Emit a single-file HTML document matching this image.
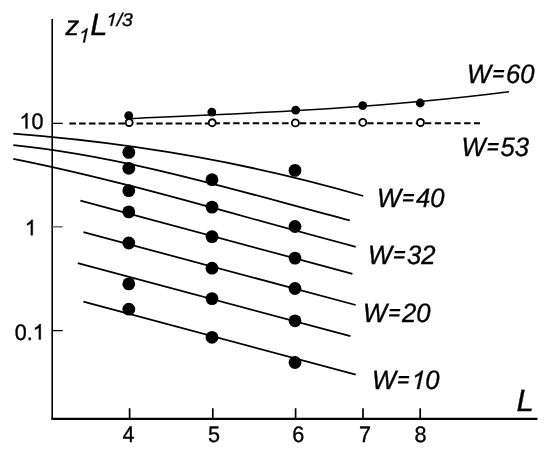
<!DOCTYPE html>
<html><head><meta charset="utf-8">
<style>
html,body{margin:0;padding:0;background:#fff;}
body{width:554px;height:457px;overflow:hidden;}
svg{display:block;will-change:transform;filter:grayscale(1);}
text{font-family:"Liberation Sans",sans-serif;text-rendering:geometricPrecision;fill:#000;stroke:#000;stroke-width:0.35px;}
.it{font-style:italic;}
.g1{fill:#000;stroke:#000;stroke-width:0.35px;vector-effect:non-scaling-stroke;}
</style></head><body>
<svg width="554" height="457" viewBox="0 0 554 457">
<rect width="554" height="457" fill="#fff"/>
<!-- axes -->
<g stroke="#000" fill="none">
<path d="M52.2 19V419.8" stroke-width="1.6"/>
<path d="M51.4 418.8H537.5" stroke-width="2.15"/>
<path d="M52 123.3H62.8M52 330.7H62.8" stroke-width="1.3"/>
<path d="M52 226.8H62.8" stroke-width="1.3" stroke="#555"/>
<path d="M129.6 418V408.2M212.8 418V408.2M295.6 418V408.2M363 418V408.2M420.2 418V408.2" stroke-width="1.7"/>
</g>
<!-- dashed -->
<g stroke="#000" stroke-width="2" fill="none">
<path d="M69.3 123.50L128.0 123.45" stroke-dasharray="6.60 3.20"/>
<path d="M136.5 123.44L209.0 123.38" stroke-dasharray="6.60 3.16"/>
<path d="M213.5 123.38L292.0 123.31" stroke-dasharray="6.50 3.30"/>
<path d="M299.8 123.30L359.0 123.25" stroke-dasharray="6.40 3.50"/>
<path d="M367.3 123.25L417.0 123.20" stroke-dasharray="6.30 3.40"/>
<path d="M425.0 123.20L480.0 123.15" stroke-dasharray="6.30 3.50"/>
</g>
<!-- curves -->
<g stroke="#000" fill="none" stroke-width="1.75">
<path id="w60" stroke-width="1.55" d="M128.7 118.7 C255.5 113.0 382.2 108.1 509.0 91.8"/>
<path id="c1" d="M13.3 133.7 C130.0 142.7 246.6 161.9 363.3 196.0"/>
<path id="c2" d="M13.3 145.1 C125.5 156.4 237.6 190.9 349.8 220.4"/>
<path id="c3" d="M13.3 158.8 C127.4 181.5 241.6 216.9 355.7 246.8"/>
<path d="M80.4 200.6L352.5 273.8"/>
<path d="M83.4 232.1L355.7 305"/>
<path d="M77.8 263.2L350.4 336.2"/>
<path d="M83.4 301.6L355.7 374.7"/>
</g>
<!-- dots -->
<g fill="#000">
<circle cx="128.7" cy="115.7" r="4.4"/><circle cx="211.8" cy="112.1" r="4.4"/><circle cx="295.7" cy="110.2" r="4.4"/><circle cx="362.7" cy="105.6" r="4.4"/><circle cx="420.2" cy="103" r="4.4"/>
<g id="big">
<circle cx="128.8" cy="152.4" r="6.4"/><circle cx="128.8" cy="168.3" r="6.4"/><circle cx="128.8" cy="190.6" r="6.4"/><circle cx="128.8" cy="211.9" r="6.4"/><circle cx="128.8" cy="243" r="6.4"/><circle cx="128.8" cy="283.9" r="6.4"/><circle cx="128.8" cy="309.2" r="6.4"/>
<circle cx="212" cy="179.7" r="6.4"/><circle cx="212" cy="207.1" r="6.4"/><circle cx="212" cy="236.6" r="6.4"/><circle cx="212" cy="268.2" r="6.4"/><circle cx="212" cy="298.6" r="6.4"/><circle cx="212" cy="337.3" r="6.4"/>
<circle cx="295" cy="170.4" r="6.4"/><circle cx="295" cy="226.5" r="6.4"/><circle cx="295" cy="258.1" r="6.4"/><circle cx="295" cy="288.5" r="6.4"/><circle cx="295" cy="320.8" r="6.4"/><circle cx="295" cy="362.5" r="6.4"/>
</g>
</g>
<g fill="#fff" stroke="#000" stroke-width="1.85">
<circle cx="129.2" cy="122.5" r="3.5"/><circle cx="212.2" cy="122.7" r="3.5"/><circle cx="295.4" cy="122.9" r="3.5"/><circle cx="362.8" cy="122.4" r="3.5"/><circle cx="420.5" cy="122.5" r="3.5"/>
</g>
<!-- labels -->
<g font-size="21.6">
<path class="g1" d="M763 0H583V1147Q518 1085 412.5 1023T223 930V1104Q373 1174.5 485.5 1275T645 1470H763Z" transform="translate(19.40 128.60) scale(0.01055 -0.01055)"/><text x="31.41" y="128.6" transform="translate(0 -5.144) scale(1 1.04)">0</text>
<path class="g1" d="M763 0H583V1147Q518 1085 412.5 1023T223 930V1104Q373 1174.5 485.5 1275T645 1470H763Z" transform="translate(24.70 235.30) scale(0.01055 -0.01055)"/>
<text x="14.7" y="339.5" transform="translate(0 -13.580) scale(1 1.04)">0.</text><path class="g1" d="M763 0H583V1147Q518 1085 412.5 1023T223 930V1104Q373 1174.5 485.5 1275T645 1470H763Z" transform="translate(32.71 339.50) scale(0.01055 -0.01055)"/>
<text x="122.5" y="441.7" transform="translate(0 -17.668) scale(1 1.04)">4</text>
<text x="208" y="441.7" transform="translate(0 -17.668) scale(1 1.04)">5</text>
<text x="292.2" y="441.7" transform="translate(0 -17.668) scale(1 1.04)">6</text>
<text x="359.1" y="441.7" transform="translate(0 -17.668) scale(1 1.04)">7</text>
<text x="414.4" y="441.7" transform="translate(0 -17.668) scale(1 1.04)">8</text>
</g>
<g class="it" font-size="25.6">
<text x="467" y="83" transform="translate(0 -3.320) scale(1 1.04)">W</text><path d="M493.93 70.00L504.43 70.00L503.97 72.20L493.47 72.20ZM493.23 75.30L503.73 75.30L503.27 77.50L492.77 77.50Z" fill="#000"/><text x="506.12" y="83" transform="translate(0 -3.320) scale(1 1.04)">60</text>
<text x="461.5" y="156" transform="translate(0 -6.240) scale(1 1.04)">W</text><path d="M488.43 143.00L498.93 143.00L498.47 145.20L487.97 145.20ZM487.73 148.30L498.23 148.30L497.77 150.50L487.27 150.50Z" fill="#000"/><text x="500.62" y="156" transform="translate(0 -6.240) scale(1 1.04)">53</text>
<text x="376.9" y="207" transform="translate(0 -8.280) scale(1 1.04)">W</text><path d="M403.83 194.00L414.33 194.00L413.87 196.20L403.37 196.20ZM403.13 199.30L413.63 199.30L413.17 201.50L402.67 201.50Z" fill="#000"/><text x="416.02" y="207" transform="translate(0 -8.280) scale(1 1.04)">40</text>
<text x="368" y="264" transform="translate(0 -10.560) scale(1 1.04)">W</text><path d="M394.93 251.00L405.43 251.00L404.97 253.20L394.47 253.20ZM394.23 256.30L404.73 256.30L404.27 258.50L393.77 258.50Z" fill="#000"/><text x="407.12" y="264" transform="translate(0 -10.560) scale(1 1.04)">32</text>
<text x="363" y="322" transform="translate(0 -12.880) scale(1 1.04)">W</text><path d="M389.93 309.00L400.43 309.00L399.97 311.20L389.47 311.20ZM389.23 314.30L399.73 314.30L399.27 316.50L388.77 316.50Z" fill="#000"/><text x="402.12" y="322" transform="translate(0 -12.880) scale(1 1.04)">20</text>
<text x="372" y="389" transform="translate(0 -15.560) scale(1 1.04)">W</text><path d="M398.93 376.00L409.43 376.00L408.97 378.20L398.47 378.20ZM398.23 381.30L408.73 381.30L408.27 383.50L397.77 383.50Z" fill="#000"/><path class="g1" d="M763 0H583V1147Q518 1085 412.5 1023T223 930V1104Q373 1174.5 485.5 1275T645 1470H763Z" transform="translate(411.12 389.00) skewX(-12) scale(0.01250 -0.01250) translate(-120 0)"/><text x="425.35" y="389" transform="translate(0 -15.560) scale(1 1.04)">0</text>
</g>
<text class="it" transform="translate(516.5 410.6) scale(1.05 1.04)" font-size="29.6">L</text>
<g class="it">
<text x="65.5" y="35" font-size="27.3">z</text>
<path class="g1" d="M763 0H583V1147Q518 1085 412.5 1023T223 930V1104Q373 1174.5 485.5 1275T645 1470H763Z" transform="translate(78.6 42.4) skewX(-12) scale(0.00957 -0.00957) translate(-120 0)"/>
<text transform="translate(90.2 35.2) scale(1.04 1.04)" font-size="29.6">L</text>
<g transform="translate(-12.68 -1) scale(1.1 1)"><path class="g1" d="M763 0H583V1147Q518 1085 412.5 1023T223 930V1104Q373 1174.5 485.5 1275T645 1470H763Z" transform="translate(107.80 26.80) skewX(-12) scale(0.00864 -0.00864) translate(-120 0)"/><text x="117.64" y="26.8" transform="translate(0 -1.072) scale(1 1.04)" font-size="17.7">/3</text></g>
</g>
</svg>
</body></html>
